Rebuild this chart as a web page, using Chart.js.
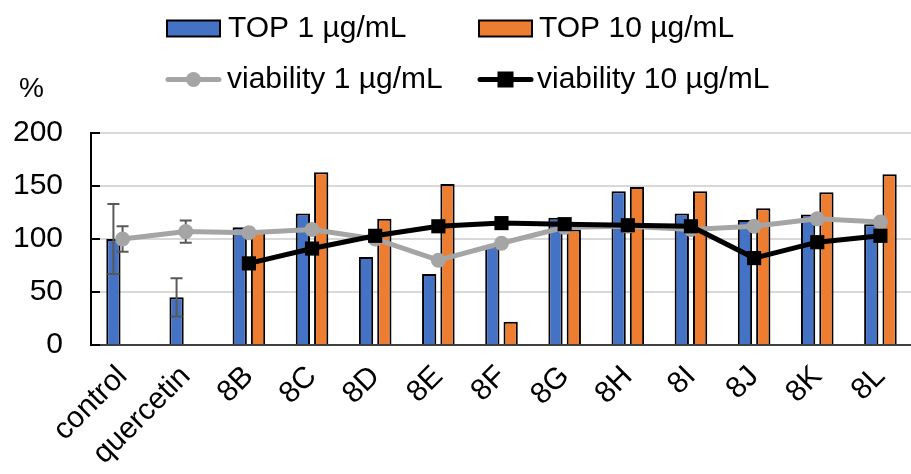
<!DOCTYPE html>
<html>
<head>
<meta charset="utf-8">
<script src="https://cdn.jsdelivr.net/npm/chart.js@4.4.0/dist/chart.umd.min.js"></script>
<style>
  html, body { margin: 0; padding: 0; background: #fff; overflow: hidden; }
  #wrap { width: 922px; height: 474px; }
</style>
</head>
<body>
<div id="wrap"><canvas id="chart"></canvas></div>
<script>
const categories = ['control', 'quercetin', '8B', '8C', '8D', '8E', '8F', '8G', '8H', '8I', '8J', '8K', '8L'];
const top1 = [100, 45, 111, 124, 83, 67, 93, 120, 145, 124, 118, 123, 114];
const top10 = [null, null, 107, 163, 119, 152, 22, 109, 149, 145, 129, 144, 161];
const viability1 = [100, 107, 106, 109, 100, 80, 96, 111, 112, 109, 112, 119, 116];
const viability10 = [null, null, 77, 91, 103, 112, 115, 114, 113, 112, 82, 97, 103];
// error bars (only control and quercetin have them)
const top1Err = [33, 18, null, null, null, null, null, null, null, null, null, null, null];
const viability1Err = [12, 10.5, null, null, null, null, null, null, null, null, null, null, null];
const yTicks = [0, 50, 100, 150, 200];

const FONT = '"Liberation Sans", Arial, sans-serif';
const BLUE = '#4472C4';
const ORANGE = '#ED7D31';
const GRAY = '#A5A5A5';

// error bars, legend, inside ticks and the "%" label
const extras = {
  id: 'extras',
  beforeDatasetDraw(chart, args) {
    if (args.index !== 2) return;
    const ctx = chart.ctx;
    const y = chart.scales.y;
    const drawErr = (meta, vals, errs) => {
      errs.forEach((e, i) => {
        if (e == null) return;
        const x = meta.data[i].x;
        const yHi = y.getPixelForValue(vals[i] + e);
        const yLo = y.getPixelForValue(vals[i] - e);
        ctx.beginPath();
        ctx.moveTo(x, yHi); ctx.lineTo(x, yLo);
        ctx.moveTo(x - 6, yHi); ctx.lineTo(x + 6, yHi);
        ctx.moveTo(x - 6, yLo); ctx.lineTo(x + 6, yLo);
        ctx.stroke();
      });
    };
    ctx.save();
    ctx.strokeStyle = '#595959';
    ctx.lineWidth = 2;
    drawErr(chart.getDatasetMeta(0), top1, top1Err);
    drawErr(chart.getDatasetMeta(2), viability1, viability1Err);
    ctx.restore();
  },
  afterDraw(chart) {
    const ctx = chart.ctx;
    const area = chart.chartArea;
    const y = chart.scales.y;
    ctx.save();

    // inside tick marks
    ctx.strokeStyle = '#000';
    ctx.lineWidth = 2;
    yTicks.forEach(v => {
      const py = y.getPixelForValue(v);
      ctx.beginPath();
      ctx.moveTo(area.left, py);
      ctx.lineTo(area.left + 9, py);
      ctx.stroke();
    });

    // legend
    ctx.font = '30px ' + FONT;
    ctx.textBaseline = 'middle';

    ctx.lineWidth = 2;
    ctx.strokeStyle = '#000';
    ctx.fillStyle = BLUE;
    ctx.fillRect(167, 20.5, 53, 16);
    ctx.strokeRect(167, 20.5, 53, 16);
    ctx.fillStyle = ORANGE;
    ctx.fillRect(479, 20.5, 53, 16);
    ctx.strokeRect(479, 20.5, 53, 16);

    ctx.fillStyle = '#000';
    ctx.fillText(chart.data.datasets[0].label, 228, 29);
    ctx.fillText(chart.data.datasets[1].label, 539, 29);

    ctx.lineWidth = 5;
    ctx.lineCap = 'round';
    ctx.strokeStyle = GRAY;
    ctx.beginPath(); ctx.moveTo(168, 79.5); ctx.lineTo(219, 79.5); ctx.stroke();
    ctx.fillStyle = GRAY;
    ctx.beginPath(); ctx.arc(193.5, 79.5, 7.5, 0, Math.PI * 2); ctx.fill();

    ctx.strokeStyle = '#000';
    ctx.beginPath(); ctx.moveTo(480, 79.5); ctx.lineTo(531, 79.5); ctx.stroke();
    ctx.fillStyle = '#000';
    ctx.fillRect(497.5, 71.5, 16, 16);

    ctx.fillText(chart.data.datasets[2].label, 227, 80);
    ctx.fillText(chart.data.datasets[3].label, 537, 80);

    // unit label
    ctx.font = '28px ' + FONT;
    ctx.fillText('%', 19, 89);
    ctx.restore();
  }
};

new Chart(document.getElementById('chart'), {
  type: 'bar',
  data: {
    labels: categories,
    datasets: [
      {
        label: 'TOP 1 µg/mL',
        data: top1,
        backgroundColor: BLUE,
        borderColor: '#000',
        borderWidth: 2,
        barPercentage: 0.78,
        categoryPercentage: 0.58,
        order: 2
      },
      {
        label: 'TOP 10 µg/mL',
        data: top10,
        backgroundColor: ORANGE,
        borderColor: '#000',
        borderWidth: 2,
        barPercentage: 0.78,
        categoryPercentage: 0.58,
        order: 3
      },
      {
        type: 'line',
        label: 'viability 1 µg/mL',
        data: viability1,
        borderColor: GRAY,
        borderWidth: 5,
        pointStyle: 'circle',
        pointRadius: 7.5,
        pointBorderWidth: 0,
        pointBackgroundColor: GRAY,
        tension: 0,
        order: 1
      },
      {
        type: 'line',
        label: 'viability 10 µg/mL',
        data: viability10,
        borderColor: '#000',
        borderWidth: 5,
        pointStyle: 'rect',
        pointRadius: 10,
        pointBorderWidth: 0,
        pointBackgroundColor: '#000',
        tension: 0,
        order: 0
      }
    ]
  },
  options: {
    responsive: true,
    maintainAspectRatio: false,
    animation: false,
    layout: { padding: { top: 133, left: 0, right: 0, bottom: 0 } },
    plugins: {
      legend: { display: false },
      tooltip: { enabled: false }
    },
    scales: {
      x: {
        offset: true,
        grid: { display: false },
        border: { color: '#404040', width: 2 },
        ticks: {
          color: '#000',
          font: { family: FONT, size: 30 },
          minRotation: 45,
          maxRotation: 45,
          autoSkip: false,
          padding: 6
        },
        afterFit(scale) { scale.height = 129; }
      },
      y: {
        min: 0,
        max: 200,
        grid: { color: '#D9D9D9', lineWidth: 2, drawTicks: false },
        border: { color: '#000', width: 2 },
        ticks: {
          stepSize: 50,
          color: '#000',
          font: { family: FONT, size: 30 },
          padding: 28
        },
        afterFit(scale) { scale.width = 91; }
      }
    }
  },
  plugins: [extras]
});
</script>
</body>
</html>
